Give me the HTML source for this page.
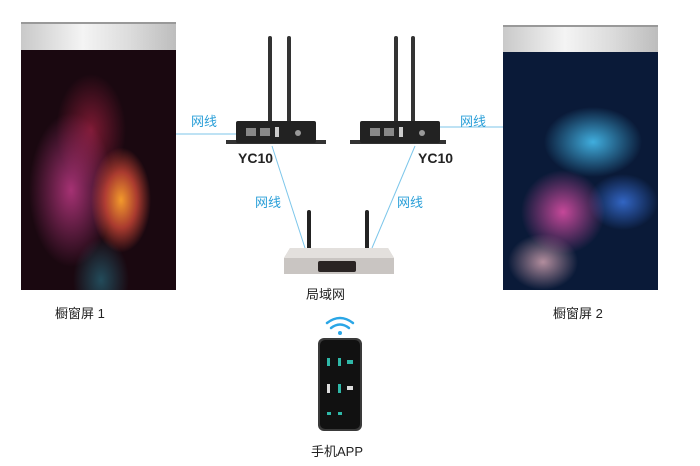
<!DOCTYPE html>
<html><head><meta charset="utf-8"><style>
body{margin:0;width:700px;height:466px;background:#fff;position:relative;overflow:hidden;font-family:"Liberation Sans","Noto Sans CJK SC",sans-serif}
.a{position:absolute}
.lbl{position:absolute;font-size:13px;color:#222}
.blue{position:absolute;font-size:13px;color:#2a9fd8}
.hdr{background:linear-gradient(90deg,#c9c9c9,#f4f4f4 40%,#dcdcdc 70%,#bdbdbd);border-top:2px solid #999}
</style></head><body>
<!-- left screen -->
<div class="a hdr" style="left:21px;top:22px;width:155px;height:28px"></div>
<div class="a" style="left:21px;top:50px;width:155px;height:240px;background:
radial-gradient(ellipse 40px 70px at 100px 150px,#f39a2c 0%,rgba(230,80,60,.7) 40%,transparent 75%),
radial-gradient(ellipse 60px 110px at 50px 140px,rgba(200,60,140,.8),transparent 70%),
radial-gradient(ellipse 50px 80px at 70px 80px,rgba(150,30,60,.8),transparent 70%),
radial-gradient(ellipse 40px 60px at 80px 230px,rgba(40,120,140,.6),transparent 70%),
#1a0810"></div>
<!-- right screen -->
<div class="a hdr" style="left:503px;top:25px;width:155px;height:27px"></div>
<div class="a" style="left:503px;top:52px;width:155px;height:238px;background:
radial-gradient(ellipse 70px 50px at 90px 90px,rgba(70,190,240,.9),transparent 70%),
radial-gradient(ellipse 60px 60px at 60px 160px,rgba(230,80,170,.85),transparent 70%),
radial-gradient(ellipse 50px 40px at 120px 150px,rgba(60,120,230,.8),transparent 70%),
radial-gradient(ellipse 50px 40px at 40px 210px,rgba(250,190,200,.7),transparent 70%),
#0a1a38"></div>
<div class="lbl" style="left:55px;top:303px">橱窗屏 1</div>
<div class="lbl" style="left:553px;top:303px">橱窗屏 2</div>

<svg class="a" style="left:0;top:0" width="700" height="466">
<g stroke="#7cc6ea" stroke-width="1" fill="none">
<line x1="176" y1="134" x2="236" y2="134"/>
<line x1="440" y1="127" x2="503" y2="127"/>
<line x1="272" y1="146" x2="305" y2="248"/>
<line x1="415" y1="146" x2="372" y2="248"/>
</g>
<!-- left device -->
<rect x="268" y="36" width="4" height="88" rx="2" fill="#333"/>
<rect x="287" y="36" width="4" height="88" rx="2" fill="#333"/>
<rect x="226" y="140" width="100" height="4" fill="#333"/>
<rect x="236" y="121" width="80" height="22" rx="2" fill="#222"/>
<rect x="246" y="128" width="10" height="8" fill="#888"/><rect x="260" y="128" width="10" height="8" fill="#888"/>
<rect x="275" y="127" width="4" height="10" fill="#ccc"/><circle cx="298" cy="133" r="3" fill="#999"/>
<!-- right device -->
<rect x="394" y="36" width="4" height="88" rx="2" fill="#333"/>
<rect x="411" y="36" width="4" height="88" rx="2" fill="#333"/>
<rect x="350" y="140" width="96" height="4" fill="#333"/>
<rect x="360" y="121" width="80" height="22" rx="2" fill="#222"/>
<rect x="370" y="128" width="10" height="8" fill="#888"/><rect x="384" y="128" width="10" height="8" fill="#888"/>
<rect x="399" y="127" width="4" height="10" fill="#ccc"/><circle cx="422" cy="133" r="3" fill="#999"/>
<!-- router -->
<rect x="307" y="210" width="4" height="42" rx="2" fill="#222"/>
<rect x="365" y="210" width="4" height="42" rx="2" fill="#222"/>
<path d="M290 248 L388 248 L394 258 L394 274 L284 274 L284 258 Z" fill="#c9c5c2"/>
<path d="M290 248 L388 248 L394 258 L284 258 Z" fill="#e3e0dd"/>
<rect x="318" y="261" width="38" height="11" rx="2" fill="#2a2423"/>
<!-- wifi -->
<g fill="none" stroke="#2aa6e6" stroke-width="2.5" stroke-linecap="round">
<path d="M327 323 Q340 313 353 323"/><path d="M331 328 Q340 321 349 328"/>
</g>
<circle cx="340" cy="333" r="2" fill="#2aa6e6"/>
<!-- phone -->
<rect x="318" y="338" width="44" height="93" rx="6" fill="#3a3a3a"/>
<rect x="320" y="340" width="40" height="89" rx="5" fill="#111"/>
<g fill="#2fb8a8">
<rect x="327" y="358" width="3" height="8"/><rect x="338" y="358" width="3" height="8"/><rect x="347" y="360" width="6" height="4"/>
<rect x="327" y="384" width="3" height="9" fill="#ddd"/><rect x="338" y="384" width="3" height="9"/><rect x="347" y="386" width="6" height="4" fill="#ddd"/>
<rect x="327" y="412" width="4" height="3"/><rect x="338" y="412" width="4" height="3"/>
</g>
</svg>

<div class="blue" style="left:191px;top:111px">网线</div>
<div class="blue" style="left:460px;top:111px">网线</div>
<div class="blue" style="left:255px;top:192px">网线</div>
<div class="blue" style="left:397px;top:192px">网线</div>
<div class="lbl" style="left:238px;top:150px;font-weight:bold;font-size:14px">YC10</div>
<div class="lbl" style="left:418px;top:150px;font-weight:bold;font-size:14px">YC10</div>
<div class="lbl" style="left:306px;top:284px">局域网</div>
<div class="lbl" style="left:311px;top:441px">手机APP</div>
</body></html>
